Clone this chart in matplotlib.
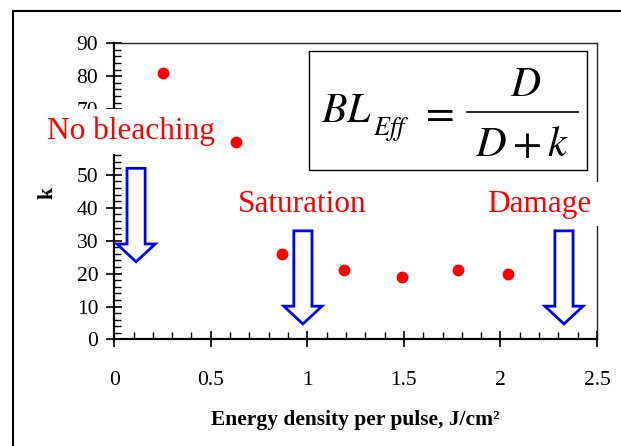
import matplotlib
matplotlib.use('Agg')
import matplotlib.pyplot as plt
from matplotlib.patches import Rectangle, FancyArrow
from matplotlib.lines import Line2D
from matplotlib.ticker import MultipleLocator

plt.rcParams['font.family'] = ['Liberation Serif', 'DejaVu Serif']
plt.rcParams['mathtext.fontset'] = 'stix'

## data
energy = [0.25, 0.63, 0.87, 1.19, 1.49, 1.78, 2.04]   # J/cm^2
k_vals = [81, 60, 26, 21, 19, 21, 20]

regions = ['No bleaching', 'Saturation', 'Damage']


fig = plt.figure(figsize=(6.21, 4.46), dpi=100)
ax = fig.add_axes([0.184, 0.239, 0.7773, 0.6639])

# pixel (from top-left of the picture) -> axes fraction, for the annotations
def px2ax(px, py):
  return (px - 114.3) / 482.7, (339.4 - py) / 296.1

# outer frame (only left/top edge visible)
fig.add_artist(Line2D([0.0215, 0.0215], [0.0, 0.9753], transform=fig.transFigure, color='black', lw=1.5))
fig.add_artist(Line2D([0.0215, 1.0], [0.9753, 0.9753], transform=fig.transFigure, color='black', lw=1.5))

ax.plot(energy, k_vals, 'o', color='red', markersize=7.5, markeredgecolor='red', zorder=4)

ax.set_xlim(0, 2.5)
ax.set_ylim(0, 90)
ax.xaxis.set_major_locator(MultipleLocator(0.5))
ax.xaxis.set_minor_locator(MultipleLocator(0.1))
ax.yaxis.set_major_locator(MultipleLocator(10))
ax.yaxis.set_minor_locator(MultipleLocator(2))
ax.set_xticks([0, 0.5, 1, 1.5, 2, 2.5])
ax.set_xticklabels(['0', '0.5', '1', '1.5', '2', '2.5'])

ax.tick_params(which='major', direction='inout', length=11, width=1.2, labelsize=15.5)
ax.tick_params(which='minor', direction='in', length=5, width=1.0)
ax.tick_params(axis='x', which='major', pad=17)
ax.tick_params(axis='y', which='major', pad=6)

for s in ['left', 'bottom']:
  ax.spines[s].set_linewidth(1.6)
  ax.spines[s].set_color('black')
for s in ['top', 'right']:
  ax.spines[s].set_linewidth(1.0)
  ax.spines[s].set_color('#222222')

ax.set_xlabel('Energy density per pulse, J/cm²', fontsize=15.5, fontweight='bold', va='center')
ax.xaxis.set_label_coords(0.5, -0.272)
ax.set_ylabel('k', fontsize=15.5, fontweight='bold', va='center')
ax.yaxis.set_label_coords(-0.139, 0.494)

# formula box, BL_Eff = D / (D + k)
ax.add_patch(Rectangle((0.403, 0.572), 0.576, 0.402, transform=ax.transAxes,
                       facecolor='white', edgecolor='black', lw=1.0, zorder=5))
ax.text(*px2ax(320.7, 122.3), r'$BL$', transform=ax.transAxes, fontsize=30,
        ha='left', va='baseline', zorder=6)
ax.text(*px2ax(373.3, 135.0), r'$Eff$', transform=ax.transAxes, fontsize=19,
        ha='left', va='baseline', zorder=6)
ax.text(*px2ax(436.5, 114.0), r'$=$', transform=ax.transAxes, fontsize=30,
        ha='center', va='center', zorder=6)
ax.text(*px2ax(525.3, 95.7), r'$D$', transform=ax.transAxes, fontsize=30,
        ha='center', va='baseline', zorder=6)
ax.text(*px2ax(522.0, 155.7), r'$D+k$', transform=ax.transAxes, fontsize=30.5,
        ha='center', va='baseline', zorder=6)
b0 = px2ax(467.3, 112.3)
b1 = px2ax(578.3, 112.3)
ax.add_line(Line2D([b0[0], b1[0]], [b0[1], b1[1]], transform=ax.transAxes, color='black', lw=1.2, zorder=6))

# region labels
lab_x = [0.084, 0.974, 2.201]
lab_y = [60.8, 38.7, 38.8]
for i in range(len(regions)):
  ax.text(lab_x[i], lab_y[i], regions[i], color='red', fontsize=22.5, ha='center', va='baseline',
          zorder=5, bbox=dict(facecolor='white', edgecolor='none', pad=5.5))

# hollow arrows
arr_x = [0.113, 0.977, 2.329]
arr_top = [52.0, 33.0, 33.0]
arr_tip = [23.6, 4.7, 4.7]
for i in range(len(arr_x)):
  a = FancyArrow(arr_x[i], arr_top[i], 0, arr_tip[i] - arr_top[i], width=0.094, head_width=0.198,
                 head_length=5.4, length_includes_head=True, facecolor='white', edgecolor='blue',
                 lw=2.0, zorder=5, clip_on=False)
  ax.add_patch(a)

fig.savefig('out.png', dpi=100)
